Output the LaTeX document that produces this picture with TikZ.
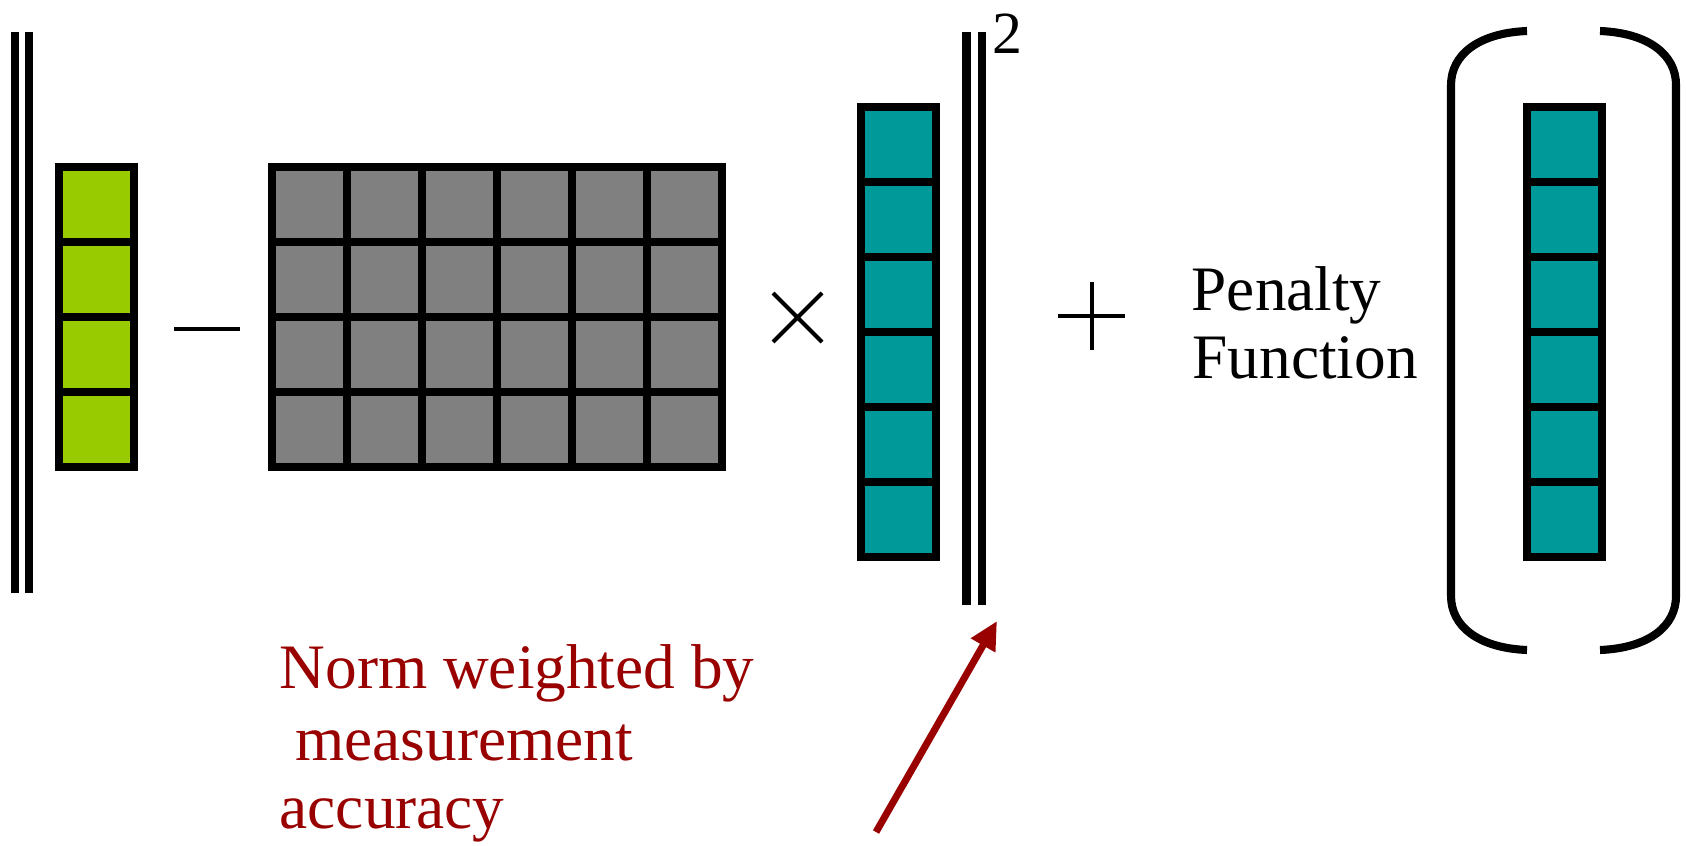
\documentclass[tikz,border=0pt]{standalone}
\usepackage{fontspec}
\setmainfont{Liberation Serif}
\usetikzlibrary{arrows.meta}
\definecolor{CellGreen}{HTML}{99CC00}
\definecolor{CellGray}{HTML}{808080}
\definecolor{CellTeal}{HTML}{009999}
\definecolor{NoteRed}{HTML}{990000}

\begin{document}
\begin{tikzpicture}[x=0.01cm,y=-0.01cm,
  every node/.style={inner sep=0pt, font=\fontsize{18}{22}\selectfont},
  cell/.style={draw=black, line width=2.3pt},
  normbar/.style={line width=2.4pt},
  oper/.style={line width=1.15pt},
  paren/.style={line width=2.3pt}]
  \useasboundingbox (0,0) rectangle (1686,845);
  % norm bars
  \foreach \x in {15,29} \draw[normbar] (\x,32) -- (\x,593);
  \foreach \x in {966.5,982} \draw[normbar] (\x,32) -- (\x,605);
  \node[anchor=base west, font=\fontsize{17}{20}\selectfont] (sq) at (992,53) {2};
  % measured vector
  \foreach \r in {0,...,3}
    \draw[cell, fill=CellGreen] (59,167+75*\r) rectangle ++(75,75);
  \draw[oper] (174,329) -- (240,329);
  % matrix
  \foreach \c in {0,...,5}
    \foreach \r in {0,...,3}
      \draw[cell, fill=CellGray] (272+75*\c,167+75*\r) rectangle ++(75,75);
  \draw[oper] (773,293) -- (822,342) (773,342) -- (822,293);
  % unknown vector
  \foreach \r in {0,...,5}
    \draw[cell, fill=CellTeal] (861,107+75*\r) rectangle ++(75,75);
  \draw[oper] (1058,316) -- (1125,316) (1091.5,282) -- (1091.5,350);
  \node[anchor=base west] (pen) at (1191,310) {Penalty};
  \node[anchor=base west] (fun) at (1192,378) {Function};
  % penalty argument
  \draw[paren] (1527,31) .. controls (1478,33) and (1451,55) .. (1451,85)
    -- (1451,596) .. controls (1451,626) and (1478,648) .. (1527,650);
  \draw[paren] (1600,31) .. controls (1649,33) and (1676,55) .. (1676,85)
    -- (1676,596) .. controls (1676,626) and (1649,648) .. (1600,650);
  \foreach \r in {0,...,5}
    \draw[cell, fill=CellTeal] (1527,107+75*\r) rectangle ++(75,75);
  % note
  \node[anchor=base west, text=NoteRed] (note1) at (279,688) {Norm weighted by};
  \node[anchor=base west, text=NoteRed] (note2) at (279,760) {\ measurement};
  \node[anchor=base west, text=NoteRed] (note3) at (279,828) {accuracy};
  \coordinate (tail) at (876,832);
  \coordinate (tip) at (997,621);
  \draw[NoteRed, line width=2pt, -{Triangle[length=8pt,width=7.5pt]}] (tail) -- (tip);
\end{tikzpicture}
\end{document}
